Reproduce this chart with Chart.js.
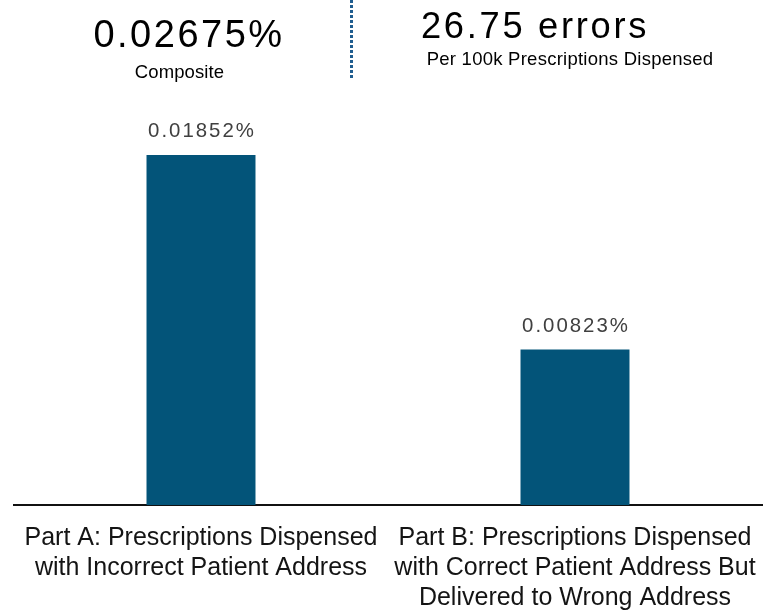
<!DOCTYPE html>
<html>
<head>
<meta charset="utf-8">
<title>Prescriptions Dispensed to Wrong Address</title>
<script src="https://cdn.jsdelivr.net/npm/chart.js@4/dist/chart.umd.min.js"></script>
<style>
  html, body { margin: 0; padding: 0; background: #ffffff; }
  #wrap { position: relative; width: 768px; height: 615px; }
</style>
</head>
<body>
<div id="wrap"><canvas id="chart" width="768" height="615"></canvas></div>
<script>
// Error rate per category (in percent)
const categories = [
  ["Part A: Prescriptions Dispensed", "with Incorrect Patient Address"],
  ["Part B: Prescriptions Dispensed", "with Correct Patient Address But", "Delivered to Wrong Address"]
];
const rates = [0.01852, 0.00823];

// Headline figures
const compositeRate = 0.02675;
const errorsPer100k = 26.75;
const headlineCaptions = ["Composite", "Per 100k Prescriptions Dispensed"];

const BAR_COLOR = '#035479';
const BASE_FONT = "'Liberation Sans', Arial, sans-serif";

// Percent labels above each bar
const valueLabels = {
  id: 'valueLabels',
  afterDatasetsDraw(chart) {
    const ctx = chart.ctx;
    const meta = chart.getDatasetMeta(0);
    ctx.save();
    ctx.font = '20.4px ' + BASE_FONT;
    ctx.letterSpacing = '2px';
    ctx.fillStyle = '#404040';
    ctx.textAlign = 'center';
    ctx.textBaseline = 'alphabetic';
    meta.data.forEach((bar, i) => {
      const v = chart.data.datasets[0].data[i];
      ctx.fillText(v.toFixed(5) + '%', bar.x + 1, bar.y - 17.5);
    });
    ctx.restore();
  }
};

// Headline block: composite rate, errors per 100k and a dotted divider
const headline = {
  id: 'headline',
  afterDraw(chart) {
    const ctx = chart.ctx;
    ctx.save();
    ctx.textAlign = 'center';
    ctx.textBaseline = 'alphabetic';
    ctx.fillStyle = '#000000';

    ctx.font = '38px ' + BASE_FONT;
    ctx.letterSpacing = '2.5px';
    ctx.fillText(compositeRate.toFixed(5) + '%', 189, 47);

    ctx.font = '36.3px ' + BASE_FONT;
    ctx.letterSpacing = '2.7px';
    ctx.fillText(errorsPer100k.toFixed(2) + ' errors', 535, 37.7);

    ctx.font = '18.5px ' + BASE_FONT;
    ctx.letterSpacing = '0.1px';
    ctx.fillText(headlineCaptions[0], 179.5, 78.3);
    ctx.letterSpacing = '0.25px';
    ctx.fillText(headlineCaptions[1], 570, 65);

    ctx.letterSpacing = '0px';
    ctx.strokeStyle = '#1f5d8f';
    ctx.lineWidth = 3;
    ctx.setLineDash([3, 2]);
    ctx.beginPath();
    ctx.moveTo(351.5, 0);
    ctx.lineTo(351.5, 78);
    ctx.stroke();
    ctx.restore();
  }
};

new Chart(document.getElementById('chart'), {
  type: 'bar',
  data: {
    labels: categories,
    datasets: [{
      data: rates,
      backgroundColor: BAR_COLOR,
      borderWidth: 0,
      barPercentage: 0.2914,
      categoryPercentage: 1
    }]
  },
  options: {
    responsive: false,
    animation: false,
    events: [],
    layout: { padding: { top: 127, left: 14, right: 6, bottom: 0 } },
    plugins: {
      legend: { display: false },
      tooltip: { enabled: false },
      title: { display: false }
    },
    scales: {
      y: {
        display: false,
        min: 0,
        max: 0.02
      },
      x: {
        grid: { display: false, drawTicks: false },
        border: { display: true, color: '#111111', width: 2 },
        ticks: {
          color: '#141414',
          padding: 18.5,
          maxRotation: 0,
          autoSkip: false,
          font: { family: BASE_FONT, size: 25, lineHeight: 1.2 }
        },
        afterFit(scale) {
          scale.height = 110;
          scale.paddingLeft = 0;
          scale.paddingRight = 0;
        }
      }
    }
  },
  plugins: [valueLabels, headline]
});
</script>
</body>
</html>
